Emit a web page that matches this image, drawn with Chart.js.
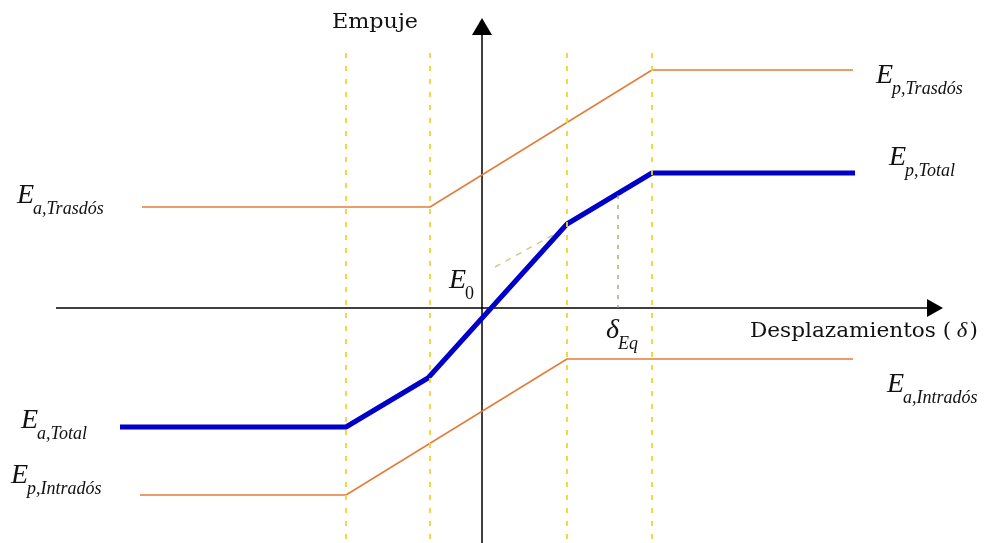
<!DOCTYPE html>
<html>
<head>
<meta charset="utf-8">
<script src="https://cdn.jsdelivr.net/npm/chart.js@4/dist/chart.umd.min.js"></script>
<style>
  html, body { margin: 0; padding: 0; background: #fff; }
  #wrap { width: 986px; height: 543px; position: relative; }
</style>
</head>
<body>
<div id="wrap"><canvas id="empuje"></canvas></div>
<script>
// Coordenadas: x = desplazamiento, y = empuje (origen en el cruce de ejes)
const trasdos  = [{x: -340, y: 101}, {x: -52, y: 101}, {x: 170, y: 238}, {x: 371, y: 238}];
const total    = [{x: -362, y: -119}, {x: -136, y: -119}, {x: -54, y: -70}, {x: 85, y: 84}, {x: 170, y: 135}, {x: 373, y: 135}];
const intrados = [{x: -342, y: -187}, {x: -136, y: -187}, {x: 85, y: -51}, {x: 371, y: -51}];
const tangenteE0 = [{x: 13, y: 41}, {x: 71, y: 73}];
const guiasX = [-136, -52, 85, 170];
const guiaTop = 255;
const deltaEq = {x: 136, y: 113};

const xRange = [-482, 504];
const yRange = [-235, 308];

// etiquetas: E con subíndice
const etiquetas = [
  {main: 'E', sub: 'a,Trasdós',  x: -465, y: 105},
  {main: 'E', sub: 'p,Trasdós',  x: 394,  y: 225},
  {main: 'E', sub: 'p,Total',    x: 407,  y: 143},
  {main: 'E', sub: '0',          x: -33,  y: 20, subUpright: true},
  {main: 'E', sub: 'a,Intradós', x: 405,  y: -84},
  {main: 'E', sub: 'a,Total',    x: -461, y: -120},
  {main: 'E', sub: 'p,Intradós', x: -471, y: -175},
  {main: 'δ', sub: 'Eq',         x: 124,  y: -30}
];
const tituloY = {text: 'Empuje', x: -150, y: 280};
const tituloX = {text: 'Desplazamientos (', x: 268, y: -29};

const naranja = '#E37C38';
const azul = '#0000C8';
const amarillo = 'rgba(238, 212, 50, 0.9)';

function guia(x) {
  return {
    data: [{x: x, y: guiaTop}, {x: x, y: yRange[0]}],
    borderColor: amarillo, borderWidth: 2, borderDash: [5, 8]
  };
}

const ejes = {
  id: 'ejes',
  beforeDatasetsDraw(chart) {
    const ctx = chart.ctx;
    const sx = chart.scales.x, sy = chart.scales.y;
    const x0 = sx.getPixelForValue(0), y0 = sy.getPixelForValue(0);
    ctx.save();
    ctx.strokeStyle = '#000';
    ctx.fillStyle = '#000';
    ctx.lineWidth = 1.5;
    // eje horizontal
    const xa = sx.getPixelForValue(-426), xb = sx.getPixelForValue(445), xt = sx.getPixelForValue(461);
    ctx.beginPath(); ctx.moveTo(xa, y0); ctx.lineTo(xb, y0); ctx.stroke();
    ctx.beginPath(); ctx.moveTo(xb, y0 - 9); ctx.lineTo(xt, y0); ctx.lineTo(xb, y0 + 9); ctx.closePath(); ctx.fill();
    // eje vertical
    const ya = sy.getPixelForValue(yRange[0]), yb = sy.getPixelForValue(273), yt = sy.getPixelForValue(290);
    ctx.beginPath(); ctx.moveTo(x0, ya); ctx.lineTo(x0, yb); ctx.stroke();
    ctx.beginPath(); ctx.moveTo(x0 - 10, yb); ctx.lineTo(x0, yt); ctx.lineTo(x0 + 10, yb); ctx.closePath(); ctx.fill();
    ctx.restore();
  },
  afterDatasetsDraw(chart) {
    const ctx = chart.ctx;
    const sx = chart.scales.x, sy = chart.scales.y;
    ctx.save();
    ctx.fillStyle = '#111';
    ctx.textBaseline = 'alphabetic';
    // títulos de ejes (algo ensanchados)
    ctx.save();
    ctx.translate(sx.getPixelForValue(tituloY.x), sy.getPixelForValue(tituloY.y));
    ctx.scale(1.06, 1);
    ctx.font = '21px "DejaVu Serif"';
    ctx.fillText(tituloY.text, 0, 0);
    ctx.restore();

    ctx.save();
    ctx.translate(sx.getPixelForValue(tituloX.x), sy.getPixelForValue(tituloX.y));
    ctx.scale(1.08, 1);
    ctx.font = '20px "DejaVu Serif"';
    ctx.fillText(tituloX.text, 0, 0);
    let w = ctx.measureText(tituloX.text).width;
    ctx.font = 'italic 21px "Liberation Serif"';
    ctx.fillText(' δ', w, 0);
    w += ctx.measureText(' δ').width;
    ctx.font = '20px "DejaVu Serif"';
    ctx.fillText(')', w + 2, 0);
    ctx.restore();

    // etiquetas con subíndice
    etiquetas.forEach(e => {
      const ex = sx.getPixelForValue(e.x), ey = sy.getPixelForValue(e.y);
      ctx.font = 'italic 28px "Liberation Serif"';
      ctx.fillText(e.main, ex, ey);
      const mw = ctx.measureText(e.main).width;
      ctx.font = (e.subUpright ? '' : 'italic ') + '18px "Liberation Serif"';
      ctx.fillText(e.sub, ex + mw - 1, ey + 11);
    });
    ctx.restore();
  }
};

new Chart(document.getElementById('empuje'), {
  type: 'line',
  data: {
    datasets: [
      ...guiasX.map(guia),
      {data: [{x: deltaEq.x, y: deltaEq.y}, {x: deltaEq.x, y: 0}], borderColor: 'rgba(150, 150, 90, 0.8)', borderWidth: 1.5, borderDash: [4, 6]},
      {data: tangenteE0, borderColor: 'rgba(200, 200, 130, 0.9)', borderWidth: 1.5, borderDash: [6, 6]},
      {data: trasdos, borderColor: naranja, borderWidth: 1.5},
      {data: intrados, borderColor: naranja, borderWidth: 1.5},
      {data: total, borderColor: azul, borderWidth: 5}
    ]
  },
  options: {
    responsive: true,
    maintainAspectRatio: false,
    animation: false,
    layout: {padding: 0},
    elements: {point: {radius: 0}, line: {tension: 0, borderCapStyle: 'butt', borderJoinStyle: 'round'}},
    plugins: {legend: {display: false}, tooltip: {enabled: false}},
    scales: {
      x: {type: 'linear', min: xRange[0], max: xRange[1], display: false},
      y: {type: 'linear', min: yRange[0], max: yRange[1], display: false}
    }
  },
  plugins: [ejes]
});
</script>
</body>
</html>
